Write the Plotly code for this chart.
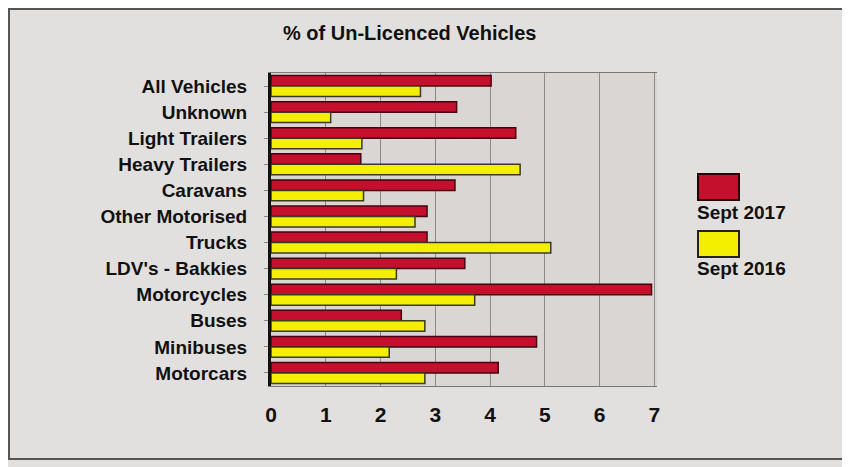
import plotly.graph_objects as go

categories = ["All Vehicles", "Unknown", "Light Trailers", "Heavy Trailers", "Caravans",
              "Other Motorised", "Trucks", "LDV's - Bakkies", "Motorcycles", "Buses",
              "Minibuses", "Motorcars"]
sept_2017 = [4.02, 3.39, 4.47, 1.64, 3.36, 2.85, 2.85, 3.54, 6.95, 2.38, 4.85, 4.15]
sept_2016 = [2.73, 1.09, 1.66, 4.55, 1.69, 2.63, 5.11, 2.29, 3.72, 2.81, 2.16, 2.81]
series_names = ["Sept 2017", "Sept 2016"]
x_ticks = [0, 1, 2, 3, 4, 5, 6, 7]

RED = "#c4102c"
YELLOW = "#f4ef00"
FONT = "Liberation Sans"

fig = go.Figure()
fig.add_trace(go.Bar(y=categories, x=sept_2017, orientation="h", name=series_names[0],
                     marker=dict(color=RED, line=dict(color="#4a0010", width=1.5))))
fig.add_trace(go.Bar(y=categories, x=sept_2016, orientation="h", name=series_names[1],
                     marker=dict(color=YELLOW, line=dict(color="#3a3a20", width=1.5))))

OFF = 8  # page body margin
W, H = 850 - OFF, 467 - OFF
l, r, t, b = 271 - OFF, 193, 73 - OFF, 81
pw, ph = W - l - r, H - t - b

def px(xp):
    return (xp - OFF - l) / pw

def py(yp):
    return 1 - (yp - OFF - t) / ph

shapes = [
    dict(type="rect", xref="paper", yref="paper", x0=px(9), x1=px(845), y0=py(459), y1=py(9),
         line=dict(color="#555555", width=2), fillcolor="rgba(0,0,0,0)", layer="below"),
    dict(type="rect", xref="paper", yref="paper", x0=px(698), x1=px(739), y0=py(200), y1=py(174),
         line=dict(color="#2a0008", width=2), fillcolor=RED),
    dict(type="rect", xref="paper", yref="paper", x0=px(698), x1=px(739), y0=py(257), y1=py(231),
         line=dict(color="#222222", width=2), fillcolor=YELLOW),
]

annotations = [
    dict(text="<b>% of Un-Licenced Vehicles</b>", xref="paper", yref="paper",
         x=px(409), y=py(33), showarrow=False, font=dict(family=FONT, size=20, color="#111111"),
         xanchor="center", yanchor="middle"),
    dict(text="<b>" + series_names[0] + "</b>", xref="paper", yref="paper",
         x=px(695), y=py(212), showarrow=False, font=dict(family=FONT, size=19, color="#111111"),
         xanchor="left", yanchor="middle"),
    dict(text="<b>" + series_names[1] + "</b>", xref="paper", yref="paper",
         x=px(695), y=py(268), showarrow=False, font=dict(family=FONT, size=19, color="#111111"),
         xanchor="left", yanchor="middle"),
]

fig.update_layout(
    width=W, height=H,
    margin=dict(l=l, r=r, t=t, b=b),
    barmode="group", bargap=0.2, bargroupgap=0.0,
    paper_bgcolor="#e2e0de", plot_bgcolor="#d9d6d4",
    showlegend=False,
    shapes=shapes, annotations=annotations,
    font=dict(family=FONT, color="#111111"),
    xaxis=dict(range=[0, 7.05], tickvals=x_ticks, ticktext=["<b>%d</b>" % v for v in x_ticks],
               showgrid=True, gridcolor="#8a8a8a", gridwidth=1.2, zeroline=False,
               tickfont=dict(family=FONT, size=21, color="#111111"),
               ticks="", ticklen=0, ticklabelstandoff=10,
               showline=True, linecolor="#777777", linewidth=1, mirror=True),
    yaxis=dict(autorange="reversed", tickfont=dict(family=FONT, size=19, color="#111111"),
               ticks="outside", ticklen=4, tickcolor="#888888", ticklabelstandoff=13,
               showline=True, linecolor="#111111", linewidth=3, showgrid=False),
)
fig.update_yaxes(ticktext=["<b>" + c + "</b>" for c in categories], tickvals=categories)

fig.write_html("out.html")
